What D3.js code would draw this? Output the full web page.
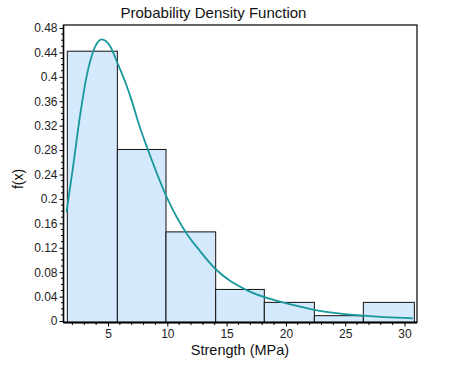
<!DOCTYPE html>
<html><head><meta charset="utf-8">
<script src="https://cdn.jsdelivr.net/npm/d3@7"></script>
<style>body{margin:0;background:#fff}svg{display:block}text{font-family:"Liberation Sans",Arial,sans-serif;fill:#111}</style>
</head><body><svg id="c" width="451" height="369"></svg>
<script>
// Histogram bin edges (MPa) and densities
const binEdges = [1.57, 5.79, 9.89, 14.08, 18.18, 22.4, 26.53, 30.83];
const binDensity = [0.442, 0.281, 0.146, 0.0517, 0.0305, 0.0087, 0.0305];
// Fitted PDF curve
const curveX = [1.5, 2.07, 2.64, 3.21, 3.76, 4.47, 5.17, 5.79, 6.58, 7.0, 7.61, 8.4, 9.95, 11.64, 12.7, 14.02, 16.7, 19.5, 21.2, 22.5, 26.5, 30.7];
const curveY = [0.178, 0.255, 0.336, 0.402, 0.442, 0.4615, 0.4506, 0.423, 0.385, 0.361, 0.322, 0.279, 0.203, 0.143, 0.116, 0.086, 0.0506, 0.0316, 0.0234, 0.018, 0.0087, 0.0044];
const xTicks = [5, 10, 15, 20, 25, 30];
const yTicks = [0, 0.04, 0.08, 0.12, 0.16, 0.2, 0.24, 0.28, 0.32, 0.36, 0.4, 0.44, 0.48];
const yTickLabels = ["0", "0.04", "0.08", "0.12", "0.16", "0.2", "0.24", "0.28", "0.32", "0.36", "0.4", "0.44", "0.48"];

const svg = d3.select("#c");
const L = 63.5, R = 417, T = 25, B = 322.5;
const x = d3.scaleLinear().domain([0, 30]).range([48.7, 404.5]);
const y = d3.scaleLinear().domain([0, 0.48]).range([321, 28]);

// bars
const bins = binDensity.map((d, i) => ({x0: binEdges[i], x1: binEdges[i + 1], v: d}));
svg.append("g").selectAll("rect").data(bins).join("rect")
  .attr("x", d => x(d.x0)).attr("width", d => x(d.x1) - x(d.x0))
  .attr("y", d => y(d.v)).attr("height", d => B - y(d.v))
  .attr("fill", "#d4e9fb").attr("stroke", "#111").attr("stroke-width", 1);

// curve
const pts = curveX.map((v, i) => [v, curveY[i]]);
svg.append("path").datum(pts)
  .attr("d", d3.line().x(d => x(d[0])).y(d => y(d[1])).curve(d3.curveMonotoneX))
  .attr("fill", "none").attr("stroke", "#17989c").attr("stroke-width", 1.8);

// frame
svg.append("rect").attr("x", L).attr("y", T).attr("width", R - L).attr("height", B - T)
  .attr("fill", "none").attr("stroke", "#000").attr("stroke-width", 1.2);
svg.append("line").attr("x1", L).attr("x2", R).attr("y1", B).attr("y2", B).attr("stroke", "#000").attr("stroke-width", 2);
svg.append("line").attr("x1", L).attr("x2", L).attr("y1", T).attr("y2", B).attr("stroke", "#000").attr("stroke-width", 1.5);

// y axis
const yAxis = d3.axisLeft(y).tickValues(yTicks).tickSize(4).tickPadding(2)
  .tickFormat((d, i) => yTickLabels[i]);
const gy = svg.append("g").attr("transform", `translate(${L},0)`).call(yAxis);
gy.select(".domain").remove();
gy.selectAll("text").style("font-size", "12px").attr("font-family", null).style("fill", "#222");
const yMinor = d3.range(0, 49).map(i => i / 100).filter(v => Math.round(v * 100) % 4 !== 0);
svg.append("g").selectAll("line").data(yMinor).join("line")
  .attr("x1", L - 2.5).attr("x2", L).attr("y1", d => y(d)).attr("y2", d => y(d))
  .attr("stroke", "#000");

// x axis
const xAxis = d3.axisBottom(x).tickValues(xTicks).tickSize(4).tickPadding(3);
const gx = svg.append("g").attr("transform", `translate(0,${B})`).call(xAxis);
gx.select(".domain").remove();
gx.selectAll("text").style("font-size", "12px").attr("font-family", null).style("fill", "#222");
const xMinor = d3.range(2, 31).filter(v => v % 5 !== 0);
svg.append("g").selectAll("line").data(xMinor).join("line")
  .attr("x1", d => x(d)).attr("x2", d => x(d)).attr("y1", B).attr("y2", B + 2.5)
  .attr("stroke", "#000");

// titles
svg.append("text").attr("x", 213.5).attr("y", 17.5).attr("text-anchor", "middle")
  .style("font-size", "15px").text("Probability Density Function");
svg.append("text").attr("x", 240).attr("y", 354.5).attr("text-anchor", "middle")
  .style("font-size", "14.5px").text("Strength (MPa)");
svg.append("text").attr("transform", "translate(23,179) rotate(-90)").attr("text-anchor", "middle")
  .style("font-size", "14px").text("f(x)");
</script></body></html>
